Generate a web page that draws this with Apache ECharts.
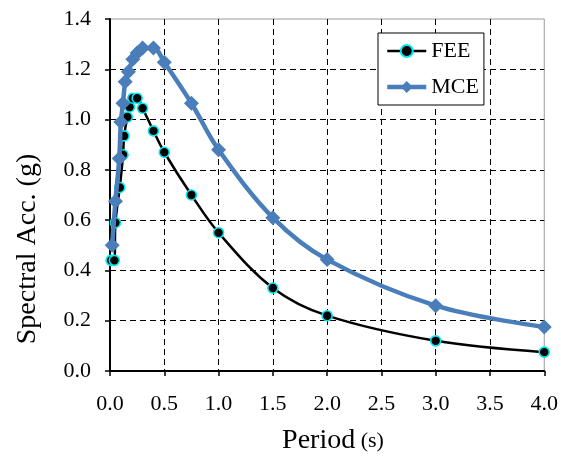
<!DOCTYPE html>
<html>
<head>
<meta charset="utf-8">
<script src="https://cdn.jsdelivr.net/npm/echarts@6/dist/echarts.min.js"></script>
<style>
html,body{margin:0;padding:0;background:#fff;}
#chart{width:561px;height:462px;}
</style>
</head>
<body>
<div id="chart"></div>
<script>
// Data
const feePeriods = [0.01, 0.04, 0.05, 0.09, 0.12, 0.13, 0.16, 0.18, 0.21, 0.25, 0.30, 0.40, 0.50, 0.75, 1.0, 1.5, 2.0, 3.0, 4.0];
const feeValues  = [0.44, 0.44, 0.59, 0.73, 0.86, 0.935, 1.01, 1.05, 1.085, 1.085, 1.045, 0.955, 0.87, 0.70, 0.55, 0.33, 0.22, 0.12, 0.075];
const mcePeriods = [0.02, 0.05, 0.085, 0.10, 0.12, 0.14, 0.17, 0.21, 0.25, 0.30, 0.40, 0.50, 0.75, 1.0, 1.5, 2.0, 3.0, 4.0];
const mceValues  = [0.50, 0.675, 0.845, 0.99, 1.065, 1.15, 1.19, 1.24, 1.265, 1.285, 1.285, 1.228, 1.065, 0.88, 0.61, 0.443, 0.26, 0.175];
const seriesNames = ['FEE', 'MCE'];
const xTitle = 'Period';
const xUnit = '(s)';
const yTitle = 'Spectral Acc. (g)';

const FONT = "'Liberation Serif', 'Times New Roman', serif";
const pairs = (xs, ys) => xs.map((x, i) => [x, ys[i]]);

const chart = echarts.init(document.getElementById('chart'), null, {renderer: 'canvas'});
chart.setOption({
  animation: false,
  backgroundColor: '#fff',
  grid: {left: 110, right: 16, top: 19, bottom: 91, show: true, borderColor: '#9a9a9a', borderWidth: 1},
  xAxis: {
    type: 'value', min: 0, max: 4, interval: 0.5,
    axisLine: {lineStyle: {color: '#000', width: 2}},
    axisTick: {show: true, length: 5, lineStyle: {color: '#000', width: 1.5}},
    axisLabel: {margin: 22, fontFamily: FONT, fontSize: 22, color: '#000', formatter: v => v.toFixed(1)},
    splitLine: {show: true, showMinLine: false, showMaxLine: false, lineStyle: {color: '#000', type: [6, 4], width: 1}}
  },
  yAxis: {
    type: 'value', min: 0, max: 1.4, interval: 0.2,
    axisLine: {show: true, lineStyle: {color: '#000', width: 2}},
    axisTick: {show: true, length: 5, lineStyle: {color: '#000', width: 1.5}},
    axisLabel: {margin: 19, fontFamily: FONT, fontSize: 22, color: '#000', formatter: v => v.toFixed(1)},
    splitLine: {show: true, showMinLine: false, showMaxLine: false, lineStyle: {color: '#000', type: [6, 4], width: 1}}
  },
  legend: {
    orient: 'vertical', left: 378, top: 33,
    data: [
      {name: seriesNames[0], lineStyle: {width: 2.5, color: '#000'}},
      {name: seriesNames[1], lineStyle: {width: 4.5, color: '#4a7ebb'}}
    ],
    backgroundColor: '#fff', borderColor: '#000', borderWidth: 1,
    padding: [7, 5, 7, 7], itemGap: 14, itemWidth: 39, itemHeight: 15,
    textStyle: {fontFamily: FONT, fontSize: 22, color: '#000'}
  },
  graphic: [
    {type: 'text', x: 28, y: 249, rotation: Math.PI / 2,
     style: {text: yTitle, font: "28px " + FONT, fill: '#000', textAlign: 'center', textVerticalAlign: 'middle'}},
    {type: 'text', x: 333, y: 441,
     style: {text: '{a|' + xTitle + '}{b| ' + xUnit + '}', fill: '#000', textAlign: 'center', textVerticalAlign: 'middle',
       rich: {a: {fontFamily: FONT, fontSize: 28, fill: '#000'}, b: {fontFamily: FONT, fontSize: 22, fill: '#000'}}}}
  ],
  series: [
    {
      name: seriesNames[0], type: 'line', data: pairs(feePeriods, feeValues),
      smooth: 0.35, clip: false,
      symbol: 'circle', symbolSize: 10,
      lineStyle: {color: '#000', width: 2.5},
      itemStyle: {color: '#000', borderColor: '#00e8f0', borderWidth: 1.6},
      z: 3
    },
    {
      name: seriesNames[1], type: 'line', data: pairs(mcePeriods, mceValues),
      smooth: 0.35, clip: false,
      symbol: 'diamond', symbolSize: 15,
      lineStyle: {color: '#4a7ebb', width: 4.5},
      itemStyle: {color: '#4a7ebb'},
      z: 4
    }
  ]
});
</script>
</body>
</html>
